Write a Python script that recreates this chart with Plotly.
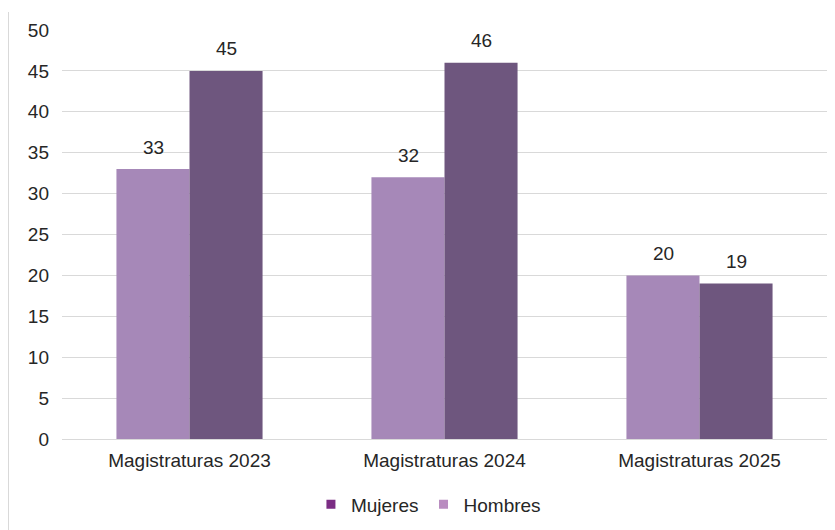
import plotly.graph_objects as go

# data
categories = ["Magistraturas 2023", "Magistraturas 2024", "Magistraturas 2025"]
hombres = [33, 32, 20]
mujeres = [45, 46, 19]
y_ticks = [0, 5, 10, 15, 20, 25, 30, 35, 40, 45, 50]

FONT = "Liberation Sans, Arial, sans-serif"
TEXT = "#262626"
GRID = "#D9D9D9"
FS = 19

fig = go.Figure()

# bars (light first, dark second)
fig.add_trace(go.Bar(
    x=categories, y=hombres, name="Hombres",
    marker=dict(color="#A688B8", line=dict(width=0)),
    showlegend=False,
))
fig.add_trace(go.Bar(
    x=categories, y=mujeres, name="Mujeres",
    marker=dict(color="#6E567E", line=dict(width=0)),
    showlegend=False,
))

# value labels, a little above each bar
for vals, shift in ((hombres, -36.5), (mujeres, 36.5)):
    for cat, v in zip(categories, vals):
        fig.add_annotation(
            x=cat, y=v, text=str(v), showarrow=False,
            xshift=shift, yshift=22, yanchor="middle",
            font=dict(family=FONT, size=FS, color=TEXT),
        )

# legend swatches, coloured as in the reference legend
fig.add_trace(go.Scatter(
    x=[None], y=[None], mode="markers", name="Mujeres",
    marker=dict(symbol="square", size=9, color="#7B2D84"),
))
fig.add_trace(go.Scatter(
    x=[None], y=[None], mode="markers", name="Hombres",
    marker=dict(symbol="square", size=9, color="#B98CC0"),
))

fig.update_layout(
    width=835, height=530,
    margin=dict(l=54, r=16, t=22, b=99),
    paper_bgcolor="white", plot_bgcolor="white",
    font=dict(family=FONT, size=FS, color=TEXT),
    barmode="group", bargap=0.427, bargroupgap=0,
    xaxis=dict(
        showgrid=False, showline=True, linecolor=GRID, linewidth=1,
        ticks="", ticklabelstandoff=4, tickfont=dict(size=FS, color=TEXT),
    ),
    yaxis=dict(
        range=[0, 50], tickvals=y_ticks, showgrid=True, gridcolor=GRID,
        gridwidth=1, zeroline=False, showline=False, ticks="",
        ticklabelstandoff=12, tickfont=dict(size=FS, color=TEXT),
    ),
    legend=dict(
        orientation="h", x=0.479, xanchor="center", y=-0.16, yanchor="middle",
        font=dict(size=FS, color=TEXT), itemwidth=30, tracegroupgap=0,
    ),
    shapes=[dict(
        type="line", xref="paper", yref="paper",
        x0=-0.0699, x1=-0.0699, y0=-0.25, y1=1.044,
        line=dict(color=GRID, width=1),
    )],
)

fig.write_html("out.html")
